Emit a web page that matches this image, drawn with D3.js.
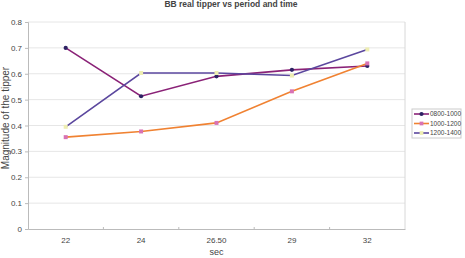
<!DOCTYPE html>
<html>
<head>
<meta charset="utf-8">
<script src="https://cdn.jsdelivr.net/npm/d3@7"></script>
<style>
  body { margin: 0; background: #fff; }
  svg text { font-family: "Liberation Sans", Arial, sans-serif; fill: #444; }
  .axis path, .axis line { stroke: #bbb; }
  .grid line { stroke: #e6e6e6; }
</style>
</head>
<body>
<svg id="chart"></svg>
<script>
// data
const categories = ["22", "24", "26.50", "29", "32"];
const series = ["0800-1000", "1000-1200", "1200-1400"];
const v0800 = [0.70, 0.513, 0.59, 0.615, 0.63];
const v1000 = [0.355, 0.377, 0.41, 0.532, 0.64];
const v1200 = [0.395, 0.603, 0.603, 0.593, 0.694];
const yTicks = [0, 0.1, 0.2, 0.3, 0.4, 0.5, 0.6, 0.7, 0.8];

const lineColors = ["#8a2277", "#f08232", "#5b479e"];
const markerColors = ["#2d2263", "#d873b4", "#eeeeb2"];
const markerShapes = [d3.symbolCircle, d3.symbolSquare, d3.symbolSquare];

const width = 465, height = 258;
const margin = {top: 22, right: 60, bottom: 29, left: 28};
const w = width - margin.left - margin.right;
const h = height - margin.top - margin.bottom;

const svg = d3.select("#chart").attr("width", width).attr("height", height);
const chart = svg.append("g").attr("transform", `translate(${margin.left},${margin.top})`);

const xScale = d3.scaleBand().domain(categories).range([0, w]);
const yScale = d3.scaleLinear().domain([0, 0.8]).range([h, 0]);

// gridlines
chart.append("g").attr("class", "grid")
    .selectAll("line").data(yTicks.slice(1)).join("line")
    .attr("x1", 0).attr("x2", w)
    .attr("y1", d => yScale(d)).attr("y2", d => yScale(d));

// plot border right side
chart.append("line").attr("x1", w).attr("x2", w).attr("y1", 0).attr("y2", h)
    .attr("stroke", "#d8d8d8");

// axes
const yAxisG = chart.append("g").attr("class", "axis")
    .call(d3.axisLeft(yScale).tickValues(yTicks).tickSize(3).tickPadding(3)
        .tickFormat(d => d === 0 ? "0" : d3.format(".1f")(d)));
yAxisG.selectAll("text").style("font-size", "8px");

const xAxisG = chart.append("g").attr("class", "axis")
    .attr("transform", `translate(0,${h})`)
    .call(d3.axisBottom(xScale).tickSize(0).tickPadding(8).tickSizeOuter(0));
xAxisG.selectAll("text").style("font-size", "8px");
// category boundary ticks
xAxisG.selectAll(".bound").data(categories.slice(1)).join("line")
    .attr("class", "bound")
    .attr("x1", d => xScale(d)).attr("x2", d => xScale(d))
    .attr("y1", 0).attr("y2", -2).attr("stroke", "#bbb");

const allData = [v0800, v1000, v1200];
const line = d3.line()
    .x((d, i) => xScale(categories[i]) + xScale.bandwidth() / 2)
    .y(d => yScale(d));

allData.forEach((vals, k) => {
    chart.append("path").datum(vals)
        .attr("d", line)
        .attr("fill", "none")
        .attr("stroke", lineColors[k])
        .attr("stroke-width", 1.6);
});
allData.forEach((vals, k) => {
    chart.selectAll(".m" + k).data(vals).join("path")
        .attr("class", "m" + k)
        .attr("transform", (d, i) => `translate(${xScale(categories[i]) + xScale.bandwidth() / 2},${yScale(d)})`)
        .attr("d", d3.symbol().type(markerShapes[k]).size(k === 0 ? 14 : 16))
        .attr("fill", markerColors[k]);
});

// title and axis labels
svg.append("text").attr("x", 231).attr("y", 7)
    .attr("text-anchor", "middle")
    .style("font-size", "8.5px").style("font-weight", "bold")
    .text("BB real tipper vs period and time");

svg.append("text")
    .attr("transform", "translate(9,118) rotate(-90)")
    .attr("text-anchor", "middle")
    .style("font-size", "10px")
    .text("Magnitude of the tipper");

svg.append("text").attr("x", margin.left + w / 2).attr("y", 255)
    .attr("text-anchor", "middle")
    .style("font-size", "9px")
    .text("sec");

// legend
const legend = svg.append("g").attr("transform", "translate(412,109)");
legend.append("rect").attr("width", 49).attr("height", 29)
    .attr("fill", "#fff").attr("stroke", "#ccc");
series.forEach((s, k) => {
    const g = legend.append("g").attr("transform", `translate(2,${5 + k * 9.5})`);
    g.append("line").attr("x1", 0).attr("x2", 15).attr("y1", 0).attr("y2", 0)
        .attr("stroke", lineColors[k]).attr("stroke-width", 1.6);
    g.append("path").attr("transform", "translate(7.5,0)")
        .attr("d", d3.symbol().type(markerShapes[k]).size(14))
        .attr("fill", markerColors[k]);
    g.append("text").attr("x", 16).attr("y", 2.3)
        .style("font-size", "6.5px").text(s);
});
</script>
</body>
</html>
